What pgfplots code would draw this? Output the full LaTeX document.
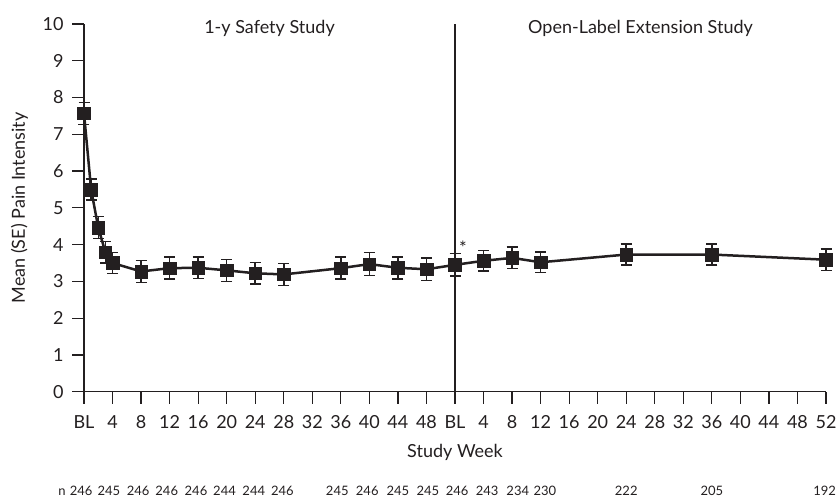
\documentclass[border=0pt]{standalone}
\usepackage{fontspec}
\setmainfont{Lato}
\usepackage{pgfplots}
\pgfplotsset{compat=1.18}
\definecolor{ink}{RGB}{35,31,32}
\pgfplotstableread{
x y e
0 7.57 0.30
1 5.50 0.28
2 4.46 0.30
3 3.79 0.29
4 3.50 0.29
8 3.27 0.30
12 3.36 0.30
16 3.37 0.29
20 3.30 0.30
24 3.22 0.29
28 3.19 0.30
36 3.36 0.30
40 3.47 0.31
44 3.37 0.30
48 3.33 0.30
52 3.45 0.31
56 3.56 0.28
60 3.64 0.29
64 3.52 0.28
76 3.73 0.29
88 3.73 0.29
104 3.59 0.29
}\pain
\begin{document}
\begin{tikzpicture}
\path[use as bounding box] (-84pt,-106.3pt) rectangle (753pt,391.7pt);
\begin{axis}[
  scale only axis, width=742pt, height=367.7pt,
  xmin=0, xmax=104, ymin=0, ymax=10,
  axis x line*=bottom, axis y line*=left,
  axis line style={ink, line width=1.3pt, -},
  xtick={0,4,...,104},
  xticklabels={BL,4,8,12,16,20,24,28,32,36,40,44,48,BL,4,8,12,16,20,24,28,32,36,40,44,48,52},
  ytick={0,1,...,10},
  tick align=outside, major tick length=12pt,
  tick style={ink, line width=1.2pt},
  ticklabel style={font=\fontsize{18}{20}\selectfont, text=ink},
  xticklabel style={yshift=-8pt},
  yticklabel style={xshift=-5pt},
  /pgf/number format/assume math mode=true,
  xlabel={Study Week}, ylabel={Mean (SE) Pain Intensity},
  label style={font=\fontsize{18}{20}\selectfont, text=ink},
  xlabel style={at={([yshift=-66pt]axis description cs:0.5,0)}, anchor=base},
  ylabel style={at={([xshift=-59pt]axis description cs:0,0.5)}, anchor=base},
  clip=false,
]
\addplot[ink, line width=1.8pt] coordinates {(52,0) (52,10)};
\addplot[ink, line width=2.5pt, mark=square*, mark size=6.3pt,
  mark options={solid, fill=ink, line width=0.5pt},
  error bars/.cd, y dir=both, y explicit,
  error bar style={line width=1.5pt, ink},
  error mark options={rotate=90, mark size=5.5pt, line width=1.5pt, ink}]
  table[x=x, y=y, y error=e] {\pain};
\node[font=\fontsize{18}{20}\selectfont, text=ink, anchor=base] at (axis cs:26,9.755) {1-y Safety Study};
\node[font=\fontsize{18}{20}\selectfont, text=ink, anchor=base] at (axis cs:78,9.755) {Open-Label Extension Study};
\node[font=\fontsize{18}{20}\selectfont, text=ink, anchor=base] at (axis cs:53.1,3.72) {*};
\begin{scope}[every node/.style={font=\fontsize{13}{14}\selectfont, text=ink, anchor=base, yshift=-104pt}]
\node at (axis cs:-3.1,0) {n};
\node at (axis cs:-0.4,0) {246};
\node at (axis cs:3.5,0) {245};
\node at (axis cs:7.6,0) {246};
\node at (axis cs:11.6,0) {246};
\node at (axis cs:15.7,0) {246};
\node at (axis cs:19.7,0) {244};
\node at (axis cs:23.8,0) {244};
\node at (axis cs:27.8,0) {246};
\node at (axis cs:35.5,0) {245};
\node at (axis cs:39.7,0) {246};
\node at (axis cs:44,0) {245};
\node at (axis cs:48.2,0) {245};
\node at (axis cs:52.3,0) {246};
\node at (axis cs:56.5,0) {243};
\node at (axis cs:60.8,0) {234};
\node at (axis cs:64.6,0) {230};
\node at (axis cs:76,0) {222};
\node at (axis cs:88,0) {205};
\node at (axis cs:103.8,0) {192};
\end{scope}
\end{axis}
\end{tikzpicture}
\end{document}
